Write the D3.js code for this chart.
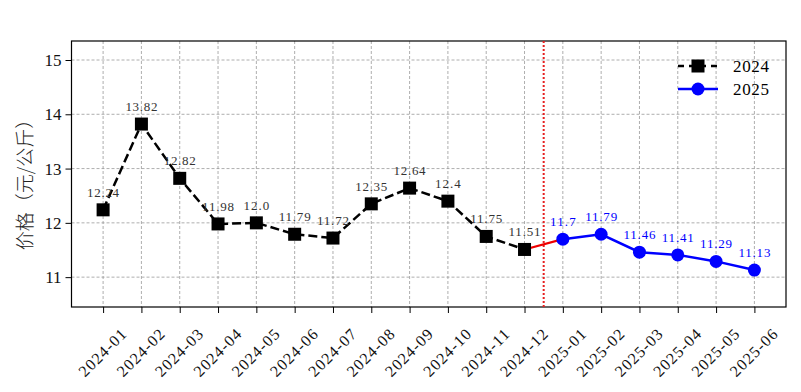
<!DOCTYPE html>
<html><head><meta charset="utf-8">
<script src="https://cdn.jsdelivr.net/npm/d3@7"></script>
<style>body{margin:0;background:#fff}svg{display:block}text{font-family:"Liberation Serif","DejaVu Serif","Noto Sans CJK SC",serif}</style>
</head><body><svg id="c" width="801" height="392"></svg>
<script>
const months2024 = ["2024-01","2024-02","2024-03","2024-04","2024-05","2024-06","2024-07","2024-08","2024-09","2024-10","2024-11","2024-12"];
const months2025 = ["2025-01","2025-02","2025-03","2025-04","2025-05","2025-06"];
const values2024 = [12.24,13.82,12.82,11.98,12.0,11.79,11.72,12.35,12.64,12.4,11.75,11.51];
const values2025 = [11.7,11.79,11.46,11.41,11.29,11.13];
const labels2024 = ["12.24","13.82","12.82","11.98","12.0","11.79","11.72","12.35","12.64","12.4","11.75","11.51"];
const labels2025 = ["11.7","11.79","11.46","11.41","11.29","11.13"];
const yTicks = [11,12,13,14,15];
const seriesNames = ["2024","2025"];
const yLabel = "价格（元/公斤）";

const categories = months2024.concat(months2025);
const svg = d3.select("#c");
const L=71.5, R=786, T=41, B=307;
const x = d3.scaleLinear().domain([-0.825, categories.length-1+0.825]).range([L,R]);
const y = d3.scaleLinear().domain([10.45,15.35]).range([B,T]);

// grid
const g = svg.append("g");
g.selectAll(".gx").data(categories).join("line")
  .attr("x1",(d,i)=>x(i)).attr("x2",(d,i)=>x(i)).attr("y1",T).attr("y2",B)
  .attr("stroke","#999").attr("stroke-width",0.8).attr("stroke-dasharray","3,2");
g.selectAll(".gy").data(yTicks).join("line")
  .attr("x1",L).attr("x2",R).attr("y1",d=>y(d)).attr("y2",d=>y(d))
  .attr("stroke","#999").attr("stroke-width",0.8).attr("stroke-dasharray","3,2");

// axes
const xAxis = d3.axisBottom(x).tickValues(d3.range(categories.length)).tickFormat(i=>categories[i]).tickSize(6).tickPadding(0);
const ax = svg.append("g").attr("transform",`translate(0,${B})`).call(xAxis);
ax.select(".domain").remove();
ax.selectAll(".tick line").attr("stroke","#000").attr("stroke-width",1);
ax.selectAll(".tick text").attr("font-size",16).attr("fill","#111")
  .attr("text-anchor","middle").attr("dy",0).attr("y",0)
  .attr("textLength",60).attr("lengthAdjust","spacing")
  .attr("transform","translate(0,47) rotate(-45)").attr("dominant-baseline","middle");

const yAxis = d3.axisLeft(y).tickValues(yTicks).tickFormat(d3.format("d")).tickSize(6).tickPadding(4);
const ay = svg.append("g").attr("transform",`translate(${L},0)`).call(yAxis);
ay.select(".domain").remove();
ay.selectAll(".tick line").attr("stroke","#000");
ay.selectAll(".tick text").attr("font-size",17).attr("fill","#111");

svg.append("rect").attr("x",L).attr("y",T).attr("width",R-L).attr("height",B-T)
  .attr("fill","none").attr("stroke","#000").attr("stroke-width",1.2);

svg.append("text").attr("transform",`translate(23,180) rotate(-90)`)
  .attr("text-anchor","middle").attr("dominant-baseline","central").attr("font-size",19).attr("fill","#222")
  .style("font-family","'Noto Sans CJK SC',sans-serif").style("font-weight",300).text(yLabel);

// vertical red dotted line
const splitX = x(months2024.length-0.5);
svg.append("line").attr("x1",splitX).attr("x2",splitX).attr("y1",T).attr("y2",B)
  .attr("stroke","#e62020").attr("stroke-width",2).attr("stroke-dasharray","2,2");

const line = d3.line().x(d=>x(d.i)).y(d=>y(d.v));
const d24 = values2024.map((v,i)=>({i,v,l:labels2024[i]}));
const d25 = values2025.map((v,i)=>({i:i+months2024.length,v,l:labels2025[i]}));

// connector
svg.append("path").datum([d24[d24.length-1], d25[0]]).attr("d",line)
  .attr("stroke","#e00").attr("stroke-width",2.2).attr("fill","none");

svg.append("path").datum(d24).attr("d",line).attr("stroke","#000").attr("stroke-width",2.5)
  .attr("fill","none").attr("stroke-dasharray","9,4");
svg.append("path").datum(d25).attr("d",line).attr("stroke","#0000ff").attr("stroke-width",2.5).attr("fill","none");

const ms=13;
svg.selectAll(".sq").data(d24).join("rect").attr("x",d=>x(d.i)-ms/2).attr("y",d=>y(d.v)-ms/2)
  .attr("width",ms).attr("height",ms).attr("fill","#000");
svg.selectAll(".ci").data(d25).join("circle").attr("cx",d=>x(d.i)).attr("cy",d=>y(d.v)).attr("r",6.5).attr("fill","#0000ff");

svg.selectAll(".l24").data(d24).join("text").attr("x",d=>x(d.i)).attr("y",d=>y(d.v)-13)
  .attr("text-anchor","middle").attr("font-size",13).attr("fill","#333")
  .attr("textLength",d=>d.l.length*6.4).attr("lengthAdjust","spacing").text(d=>d.l);
svg.selectAll(".l25").data(d25).join("text").attr("x",d=>x(d.i)).attr("y",d=>y(d.v)-13)
  .attr("text-anchor","middle").attr("font-size",13).attr("fill","#0000ff")
  .attr("textLength",d=>d.l.length*6.4).attr("lengthAdjust","spacing").text(d=>d.l);

// legend
const lg = svg.append("g");
const lx=678, ly1=66, ly2=89;
lg.append("line").attr("x1",lx).attr("x2",lx+40).attr("y1",ly1).attr("y2",ly1).attr("stroke","#000").attr("stroke-width",2.5).attr("stroke-dasharray","6,5");
lg.append("rect").attr("x",lx+20-ms/2).attr("y",ly1-ms/2).attr("width",ms).attr("height",ms).attr("fill","#000");
lg.append("line").attr("x1",lx).attr("x2",lx+40).attr("y1",ly2).attr("y2",ly2).attr("stroke","#0000ff").attr("stroke-width",2.5);
lg.append("circle").attr("cx",lx+20).attr("cy",ly2).attr("r",6.5).attr("fill","#0000ff");
lg.append("text").attr("x",lx+55).attr("y",ly1+6).attr("font-size",17).attr("textLength",36).text(seriesNames[0]);
lg.append("text").attr("x",lx+55).attr("y",ly2+6).attr("font-size",17).attr("textLength",36).text(seriesNames[1]);
</script></body></html>
